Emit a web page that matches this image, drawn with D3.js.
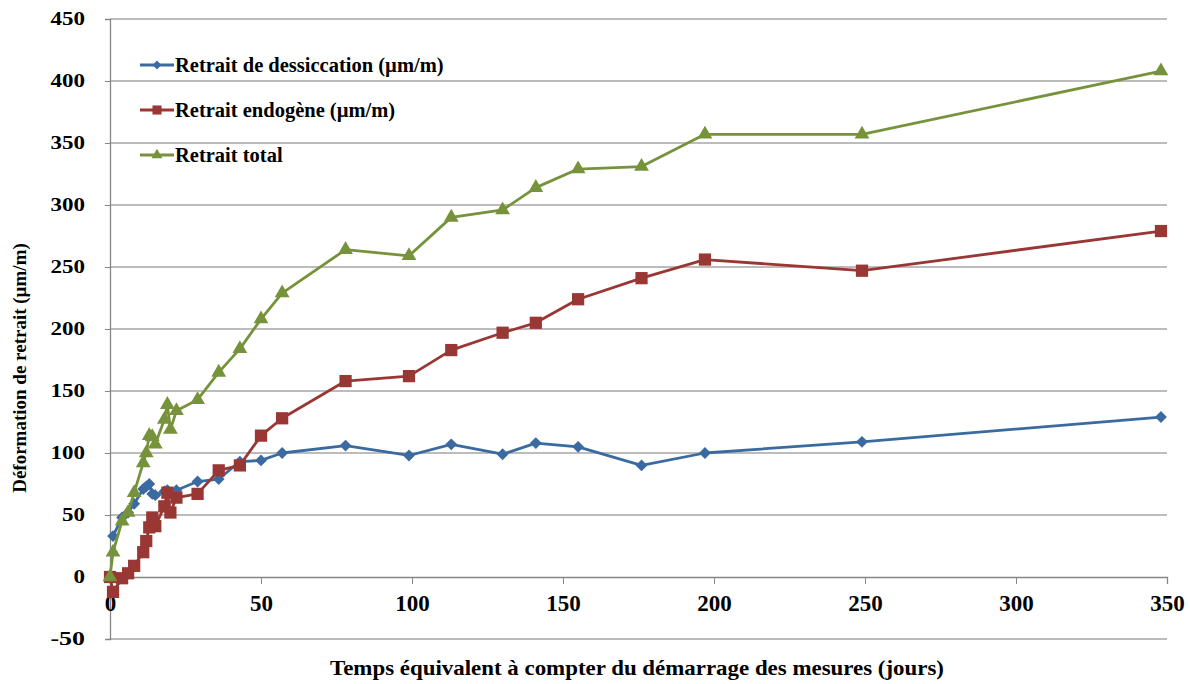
<!DOCTYPE html>
<html>
<head>
<meta charset="utf-8">
<script src="https://cdn.jsdelivr.net/npm/d3@7"></script>
<style>
  body { margin: 0; background: #fff; }
  svg { display: block; }
  text { font-family: "Liberation Serif", "Times New Roman", serif; font-weight: bold; fill: #000; }
</style>
</head>
<body>
<div id="chart"></div>
<script>
// Days after start of measurements
const days = [0, 1, 4, 6, 8, 11, 12, 13, 14, 15, 18, 19, 20, 22, 29, 36, 43, 50, 57, 78, 99, 113, 130, 141, 155, 176, 197, 249, 348];

// Series values (µm/m), null = no measurement
const dessiccation = [null, 33, 48, 52, 59, 71, 73, 75, 67, 66, 69, 70, 68, 70, 77, 79, 93, 94, 100, 106, 98, 107, 99, 108, 105, 90, 100, 109, 129];
const endogene = [0, -12, -1, 3, 9, 20, 29, 40, 48, 41, 57, 68, 52, 64, 67, 86, 90, 114, 128, 158, 162, 183, 197, 205, 224, 241, 256, 247, 279];
const total = [0, 20, 45, 52, 68, 92, 100, 114, 113, 107, 127, 139, 119, 134, 143, 165, 184, 208, 229, 264, 259, 290, 296, 314, 329, 331, 357, 357, 408];

const seriesNames = ["Retrait de dessiccation (µm/m)", "Retrait endogène (µm/m)", "Retrait total"];
const xTicks = [0, 50, 100, 150, 200, 250, 300, 350];
const yTicks = [-50, 0, 50, 100, 150, 200, 250, 300, 350, 400, 450];

const w = 1190;
const h = 684;

const x = d3.scaleLinear().domain([0, 350]).range([110, 1167]);
const y = d3.scaleLinear().domain([-50, 450]).range([639, 19]);

const colors = ["#3b6aa0", "#993735", "#76933c"];
const symbols = [
  { type: d3.symbolSquare, size: 70, rotate: 45 },
  { type: d3.symbolSquare, size: 150, rotate: 0 },
  { type: d3.symbolTriangle, size: 95, rotate: 0 }
];

const svg = d3.select("#chart").append("svg").attr("width", w).attr("height", h);

// Gridlines
svg.append("g")
  .selectAll("line")
  .data(yTicks.filter((t) => t !== 0))
  .enter()
  .append("line")
  .attr("x1", x(0))
  .attr("x2", x(350))
  .attr("y1", (d) => y(d))
  .attr("y2", (d) => y(d))
  .style("stroke", "#a6a6a6")
  .style("stroke-width", 1.3);

// Y axis
const yAxis = svg.append("g")
  .attr("transform", `translate(${x(0)},0)`)
  .call(d3.axisLeft(y).tickValues(yTicks).tickFormat((d) => String(d)).tickSize(5).tickPadding(20));
yAxis.attr("font-family", null);
yAxis.select(".domain").style("stroke", "#868686").style("stroke-width", 1.3);
yAxis.selectAll(".tick line").style("stroke", "#868686");
yAxis.selectAll(".tick text")
  .style("font-size", "18px")
  .attr("textLength", function (d) { return String(d).length * 11.5; })
  .attr("lengthAdjust", "spacingAndGlyphs");

// X axis on the zero line
const xAxis = svg.append("g")
  .attr("transform", `translate(0,${y(0)})`)
  .call(d3.axisBottom(x).tickValues(xTicks).tickFormat((d) => String(d)).tickSize(7).tickPadding(11));
xAxis.attr("font-family", null);
xAxis.select(".domain").style("stroke", "#868686").style("stroke-width", 1.3);
xAxis.selectAll(".tick line").style("stroke", "#868686");
xAxis.selectAll(".tick text").style("font-size", "23px");

// Series
const all = [dessiccation, endogene, total];
const line = d3.line()
  .defined((d) => d[1] !== null)
  .x((d) => x(d[0]))
  .y((d) => y(d[1]));

all.forEach((vals, i) => {
  const pts = days.map((d, j) => [d, vals[j]]);
  svg.append("path")
    .datum(pts)
    .attr("d", line)
    .style("fill", "none")
    .style("stroke", colors[i])
    .style("stroke-width", 2.8)
    .style("stroke-linejoin", "round");

  svg.append("g")
    .selectAll("path")
    .data(pts.filter((p) => p[1] !== null))
    .enter()
    .append("path")
    .attr("d", d3.symbol().type(symbols[i].type).size(symbols[i].size))
    .attr("transform", (p) => `translate(${x(p[0])},${y(p[1])}) rotate(${symbols[i].rotate})`)
    .style("fill", colors[i]);
});

// Legend
const legendY = [65, 110, 155];
seriesNames.forEach((name, i) => {
  const g = svg.append("g").attr("transform", `translate(140,${legendY[i]})`);
  g.append("line")
    .attr("x1", 0).attr("x2", 34)
    .style("stroke", colors[i])
    .style("stroke-width", 2.8);
  g.append("path")
    .attr("d", d3.symbol().type(symbols[i].type).size(symbols[i].size * 0.55))
    .attr("transform", `translate(17,0) rotate(${symbols[i].rotate})`)
    .style("fill", colors[i]);
  g.append("text")
    .attr("x", 35)
    .attr("y", 7)
    .style("font-size", "20.5px")
    .text(name);
});

// Axis titles
svg.append("text")
  .attr("x", 637)
  .attr("y", 675)
  .attr("text-anchor", "middle")
  .style("font-size", "21px")
  .attr("textLength", 614)
  .attr("lengthAdjust", "spacingAndGlyphs")
  .text("Temps équivalent à compter du démarrage des mesures (jours)");

svg.append("text")
  .attr("transform", "translate(26,368) rotate(-90)")
  .attr("text-anchor", "middle")
  .style("font-size", "19px")
  .text("Déformation de retrait (µm/m)");
</script>
</body>
</html>
